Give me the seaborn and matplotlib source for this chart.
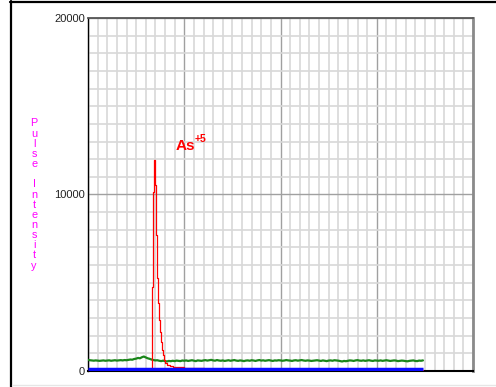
import numpy as np
import pandas as pd
import matplotlib
matplotlib.use("Agg")
import matplotlib.pyplot as plt
from matplotlib.lines import Line2D
from matplotlib.ticker import MultipleLocator, FixedLocator
import seaborn as sns

# ---- data -------------------------------------------------------------
# Red trace (As+5), retention time in s and pulse intensity
red_time = [0, 30, 66, 67, 68, 69, 70, 71, 72, 73, 74, 75, 76, 77, 78, 79,
            80, 82, 85, 88, 92, 96, 100, 105, 110, 115, 120, 125, 140, 200,
            260, 348]
red_value = [0, 0, 0, 4760, 10160, 11955, 10540, 7700, 5270, 3850, 2890,
             2230, 1660, 1190, 906, 623, 434, 340, 300, 250, 220, 200, 190,
             175, 160, 150, 140, 110, 60, 40, 40, 40]

# Green trace, sampled every 2 s from 0 to 348 s
green_value = [
    630, 610, 600, 585, 600, 590, 575, 590, 600, 580,
    590, 605, 580, 595, 610, 590, 600, 615, 600, 620,
    610, 630, 650, 640, 680, 700, 740, 720, 780, 820,
    770, 720, 690, 650, 620, 600, 610, 580, 560, 585,
    560, 540, 570, 555, 580, 560, 590, 575, 560, 595,
    580, 600, 570, 590, 610, 585, 560, 600, 590, 575,
    600, 615, 590, 610, 630, 600, 585, 620, 595, 580,
    600, 570, 590, 610, 580, 600, 620, 590, 575, 600,
    585, 560, 590, 600, 580, 610, 595, 570, 600, 620,
    590, 605, 580, 600, 615, 590, 570, 600, 590, 610,
    600, 580, 595, 620, 600, 590, 570, 600, 610, 585,
    600, 620, 595, 580, 600, 590, 570, 585, 600, 610,
    590, 570, 600, 580, 560, 590, 600, 580, 610, 600,
    585, 560, 540, 570, 555, 580, 600, 590, 570, 600,
    615, 590, 580, 600, 575, 590, 610, 585, 570, 600,
    590, 580, 600, 575, 590, 610, 590, 570, 585, 600,
    590, 560, 575, 590, 580, 560, 550, 575, 590, 600,
    570, 560, 590, 580, 600]
green_time = np.linspace(0, 348, len(green_value))

# Blue trace, flat near the baseline
blue_time = [0, 348]
blue_value = [95, 95]

y_ticks = [0, 10000, 20000]
y_tick_labels = ["0", "10000", "20000"]
y_label = "Pulse Intensity"
peak_label = "As"
peak_charge = "+5"

# ---- figure -----------------------------------------------------------
sns.set_theme(style="white")
plt.rcParams["font.family"] = ["Liberation Sans", "DejaVu Sans"]

fig = plt.figure(figsize=(4.96, 3.87), dpi=100)
fig.patch.set_facecolor("white")
ax = fig.add_axes([88 / 496, 16 / 387, 385 / 496, 353 / 387])

green_df = pd.DataFrame({"t": green_time, "v": green_value})
red_df = pd.DataFrame({"t": red_time, "v": red_value})
blue_df = pd.DataFrame({"t": blue_time, "v": blue_value})

sns.lineplot(data=green_df, x="t", y="v", ax=ax, color="#1a861a",
             linewidth=1.6, zorder=3)
sns.lineplot(data=red_df, x="t", y="v", ax=ax, color="#ff0000",
             linewidth=0.9, drawstyle="steps-post", zorder=4)
sns.lineplot(data=blue_df, x="t", y="v", ax=ax, color="#0a0aff",
             linewidth=2.5, solid_capstyle="butt", zorder=5)

ax.set_xlim(0, 400)
ax.set_ylim(0, 20000)

# grid: light minor lines, darker majors
ax.xaxis.set_major_locator(MultipleLocator(100))
ax.xaxis.set_minor_locator(MultipleLocator(10))
ax.yaxis.set_major_locator(FixedLocator(y_ticks))
ax.yaxis.set_minor_locator(MultipleLocator(1000))
ax.set_yticklabels(y_tick_labels)
ax.set_xticklabels([])
ax.grid(which="minor", color="#d8d8d8", linewidth=1.2)
ax.grid(which="major", color="#a0a0a0", linewidth=1.0)
ax.set_axisbelow(True)
ax.tick_params(which="both", length=0)
ax.tick_params(axis="y", labelsize=8, colors="#222222", pad=2)

for side, col, lw in [("left", "#000000", 1.0), ("bottom", "#000000", 1.5),
                      ("top", "#555555", 1.3), ("right", "#8a8a8a", 2.0)]:
    ax.spines[side].set_visible(True)
    ax.spines[side].set_color(col)
    ax.spines[side].set_linewidth(lw)

ax.set_xlabel("")
stacked = "\n".join(ch for ch in y_label)
ax.set_ylabel(stacked, rotation=0, color="#ff00ff", fontsize=7.8,
              ha="center", va="center", linespacing=1.02)
ax.yaxis.set_label_coords(-0.140, 0.50)

# peak annotation
ax.text(91, 12520, peak_label, color="#ff0000", fontsize=11,
        fontweight="bold", ha="left", va="baseline")
ax.text(111, 12975, peak_charge, color="#ff0000", fontsize=7.5,
        fontweight="bold", ha="left", va="baseline")

# outer frame lines
fig.add_artist(Line2D([11 / 496, 11 / 496], [0, 1 - 1 / 387], color="black",
                      linewidth=1.6, transform=fig.transFigure))
fig.add_artist(Line2D([10 / 496, 1], [1 - 2 / 387, 1 - 2 / 387],
                      color="black", linewidth=1.6, transform=fig.transFigure))
fig.add_artist(Line2D([12 / 496, 1], [2 / 387, 2 / 387], color="#e6e6e6",
                      linewidth=1.0, transform=fig.transFigure))

fig.savefig("out.png", dpi=100, facecolor="white")
